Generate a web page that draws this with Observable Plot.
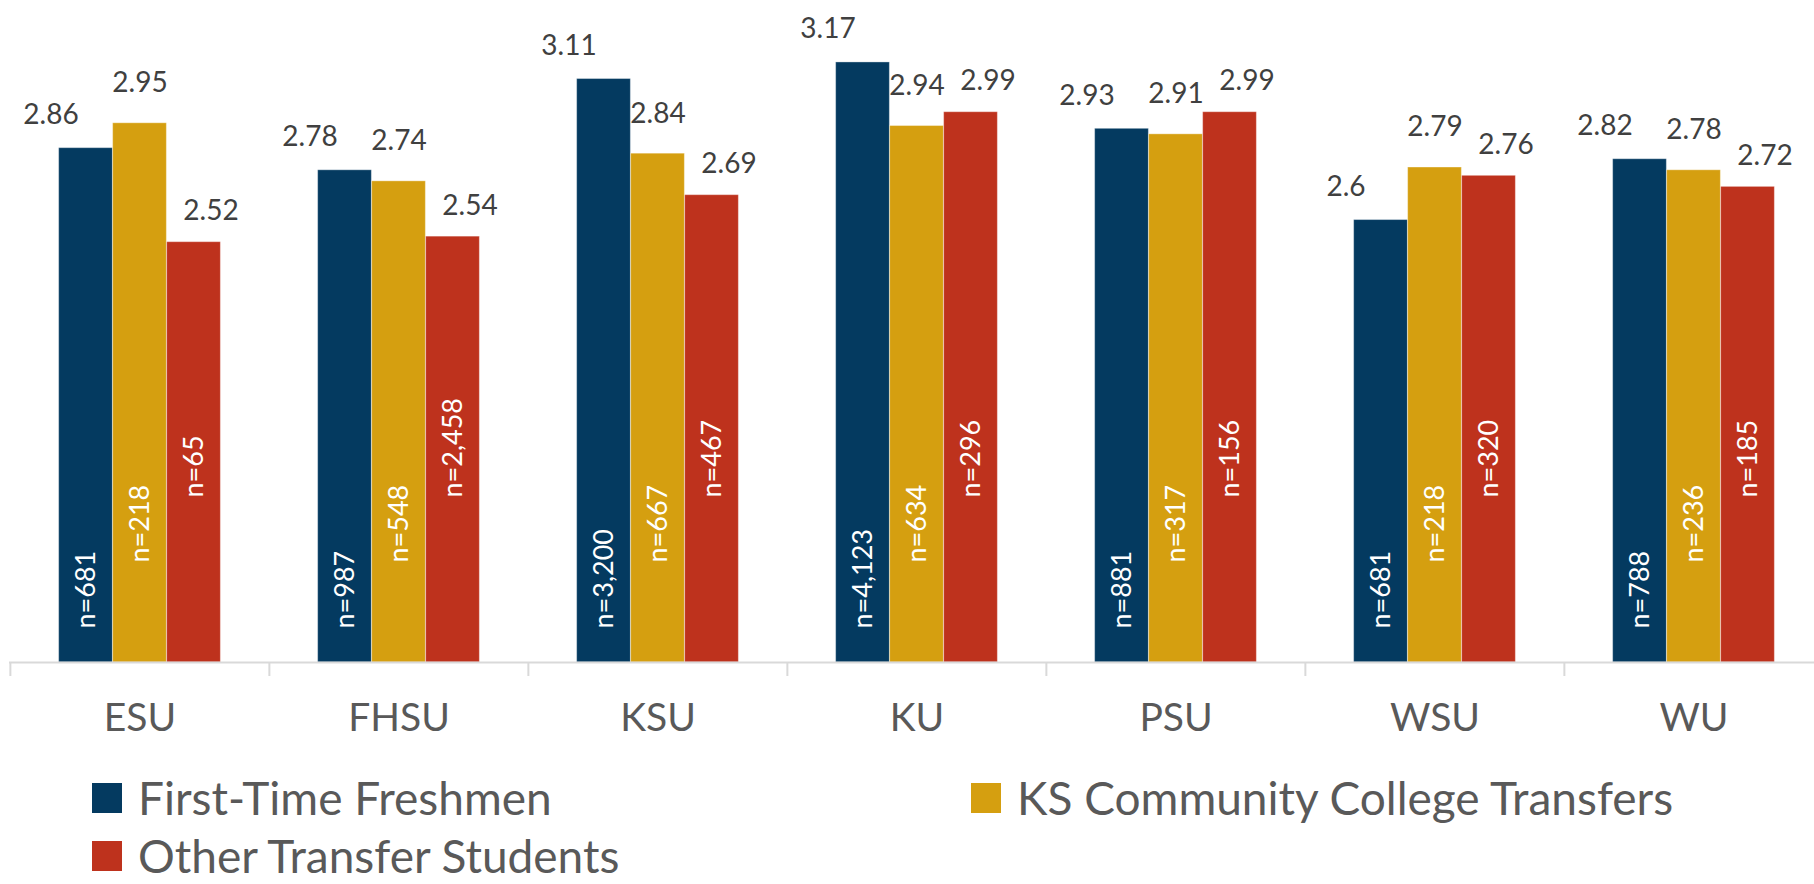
<!DOCTYPE html>
<html>
<head>
<meta charset="utf-8">
<script src="https://cdn.jsdelivr.net/npm/d3@7"></script>
<script src="https://cdn.jsdelivr.net/npm/@observablehq/plot@0.6"></script>
<style>
  html, body { margin: 0; padding: 0; background: #fff; }
  #chart { position: relative; width: 1814px; height: 884px; overflow: hidden; font-family: Lato, "Open Sans", sans-serif; }
  #chart svg { display: block; }
  .item { position: absolute; display: flex; align-items: center; font-size: 46px; color: #595959; white-space: nowrap; line-height: 36px; height: 36px; }
  .sw { width: 30px; height: 30px; margin-right: 16px; flex: none; }
</style>
</head>
<body>
<div id="chart"></div>
<script>
// ---- data ----
const universities = ["ESU", "FHSU", "KSU", "KU", "PSU", "WSU", "WU"];
const series = ["First-Time Freshmen", "KS Community College Transfers", "Other Transfer Students"];
const freshmenGPA = [2.86, 2.78, 3.11, 3.17, 2.93, 2.6, 2.82];
const ksccGPA     = [2.95, 2.74, 2.84, 2.94, 2.91, 2.79, 2.78];
const otherGPA    = [2.52, 2.54, 2.69, 2.99, 2.99, 2.76, 2.72];
const freshmenN = [681, 987, 3200, 4123, 881, 681, 788];
const ksccN     = [218, 548, 667, 634, 317, 218, 236];
const otherN    = [65, 2458, 467, 296, 156, 320, 185];
const colors = ["#043A60", "#D59F10", "#BE321D"];

// ---- layout ----
const W = 1814, H = 760;
const yDomain = [1, 3.394];
const xRange = [9, 1824];
const bw = (xRange[1] - xRange[0]) / universities.length;
const barW = 54;
const pad = (bw - 3 * barW) / 2;
const labelDx = [-35, 0, 17];
const labelDy = [-33, -40, -31];
const nDy = [-34, -100, -165];

const gpas = [freshmenGPA, ksccGPA, otherGPA];
const ns = [freshmenN, ksccN, otherN];
const rows = series.flatMap((s, si) => universities.map((u, ui) => ({
  university: u, series: s, gpa: gpas[si][ui], n: ns[si][ui]
})));
const fmtN = d3.format(",");

const marks = [];
series.forEach((s, i) => {
  const data = rows.filter(r => r.series === s);
  marks.push(Plot.barY(data, {
    x: "university", y1: () => yDomain[0], y2: "gpa", fill: "series",
    insetLeft: pad + i * barW, insetRight: pad + (2 - i) * barW,
    stroke: "#ffffff", strokeOpacity: 0.35, strokeWidth: 1
  }));
});
series.forEach((s, i) => {
  const data = rows.filter(r => r.series === s);
  marks.push(Plot.text(data, {
    x: "university", y: "gpa", text: d => String(d.gpa),
    dx: (i - 1) * barW + labelDx[i], dy: labelDy[i],
    fontSize: 28, fill: "#404040", lineAnchor: "middle", textAnchor: "middle"
  }));
  marks.push(Plot.text(data, {
    x: "university", y: () => yDomain[0], text: d => "n=" + fmtN(d.n),
    rotate: -90, textAnchor: "start", lineAnchor: "middle",
    dx: (i - 1) * barW, dy: nDy[i], fontSize: 27, fill: "#ffffff"
  }));
});
marks.push(Plot.ruleY([yDomain[0]], {stroke: "#d9d9d9", strokeWidth: 2}));
marks.push(Plot.ruleX(universities, {
  x: d => d, dx: -bw / 2, y1: () => yDomain[0], y2: () => yDomain[0], insetBottom: -14,
  stroke: "#d9d9d9", strokeWidth: 2
}));
marks.push(Plot.axisX({tickSize: 0, tickPadding: 41, fontSize: 39, color: "#595959", label: null}));

const chart = Plot.plot({
  width: W, height: H,
  marginTop: 0, marginBottom: 98, marginLeft: 9, marginRight: 0,
  style: {fontFamily: "Lato, 'Open Sans', sans-serif", background: "#fff", overflow: "visible"},
  x: {domain: universities, range: xRange, padding: 0, axis: null},
  y: {domain: yDomain, axis: null},
  color: {domain: series, range: colors},
  marks
});
const root = document.getElementById("chart");
root.appendChild(chart);

// ---- legend ----
const legendPos = [[92, 780], [971, 780], [92, 838]];
series.forEach((s, i) => {
  const it = document.createElement("div");
  it.className = "item";
  it.style.left = legendPos[i][0] + "px";
  it.style.top = legendPos[i][1] + "px";
  const sw = document.createElement("span");
  sw.className = "sw";
  sw.style.background = colors[i];
  const tx = document.createElement("span");
  tx.textContent = s;
  it.appendChild(sw);
  it.appendChild(tx);
  root.appendChild(it);
});
</script>
</body>
</html>
